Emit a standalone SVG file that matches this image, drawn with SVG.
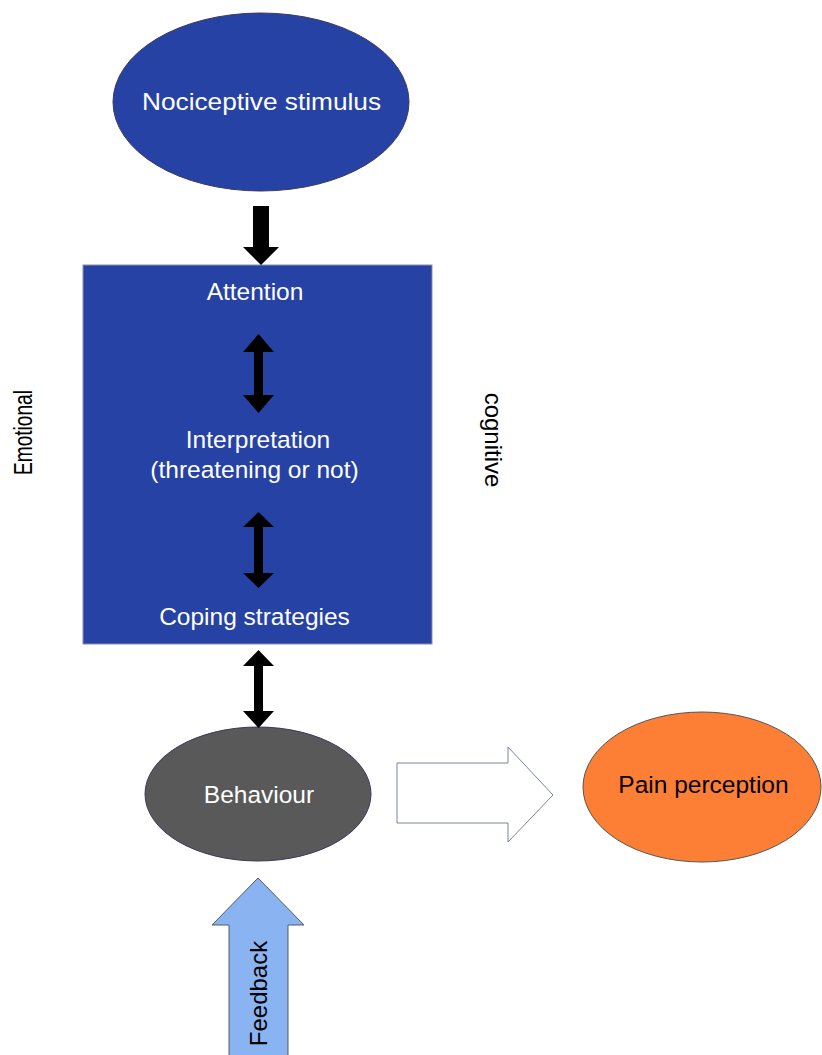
<svg xmlns="http://www.w3.org/2000/svg" width="822" height="1055" viewBox="0 0 822 1055">
<style>
  .t { font-family: "Liberation Sans", Arial, sans-serif; text-anchor: middle; }
  .w { fill: #ffffff; }
  .k { fill: #000000; }
  .blk { fill: #000000; stroke: none; }
</style>
<rect x="0" y="0" width="822" height="1055" fill="#ffffff"/>

<g id="nociceptive">
  <ellipse cx="261" cy="102" rx="148" ry="89" fill="#2642A4" stroke="#3a3a5a" stroke-width="1"/>
  <text class="t w" x="261.5" y="109.5" font-size="24" textLength="239" lengthAdjust="spacingAndGlyphs">Nociceptive stimulus</text>
</g>

<g id="process-box">
  <rect x="83" y="265" width="349" height="379" fill="#2642A4" stroke="#8a8fa8" stroke-width="1"/>
  <text class="t w" x="255" y="299.5" font-size="24.5">Attention</text>
  <text class="t w" x="258" y="448" font-size="24.5">Interpretation</text>
  <text class="t w" x="254.5" y="477.5" font-size="24.5">(threatening or not)</text>
  <text class="t w" x="254.5" y="624.5" font-size="24.5">Coping strategies</text>
</g>

<g id="behaviour">
  <ellipse cx="258" cy="794" rx="113" ry="67" fill="#595959" stroke="#3a3a5a" stroke-width="1"/>
  <text class="t w" x="259" y="803" font-size="24.5">Behaviour</text>
</g>

<g id="pain-perception">
  <ellipse cx="702" cy="787" rx="119" ry="75" fill="#FD7F36" stroke="#555555" stroke-width="1"/>
  <text class="t k" x="703.5" y="793" font-size="24.5">Pain perception</text>
</g>

<g id="emotional-label">
  <text class="t k" font-size="26" textLength="85" lengthAdjust="spacingAndGlyphs" transform="translate(32 432.5) rotate(-90)">Emotional</text>
</g>

<g id="cognitive-label">
  <text class="t k" font-size="24" transform="translate(485 440) rotate(90)">cognitive</text>
</g>

<g id="feedback">
  <polygon points="258,878 304,925 288,925 288,1056 229,1056 229,925 212,925" fill="#8AB3F1" stroke="#555a66" stroke-width="1"/>
  <text class="t k" font-size="24" transform="translate(266.5 993.5) rotate(-90)">Feedback</text>
</g>

<g id="connectors">
  <polygon class="blk" points="253,206 269,206 269,247 279,247 261,265 243,247 253,247"/>
  <polygon class="blk" points="258.5,334 274,352 263,352 263,395 274,395 258.5,413 243,395 254,395 254,352 243,352"/>
  <polygon class="blk" points="258.5,512 274,527 263,527 263,573 274,573 258.5,588 243,573 254,573 254,527 243,527"/>
  <polygon class="blk" points="258.5,650 274,666 263,666 263,711 274,711 258.5,728 243,711 254,711 254,666 243,666"/>
  <polygon points="397,763 508,763 508,747 553,795 508,842 508,823 397,823" fill="#ffffff" stroke="#7d849c" stroke-width="1"/>
</g>
</svg>
